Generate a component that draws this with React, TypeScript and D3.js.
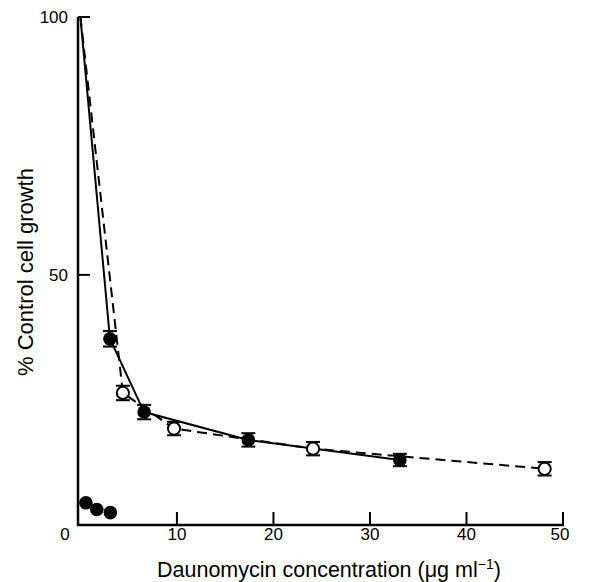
import React from "react";
import * as d3 from "d3";

const xTicks = [10, 20, 30, 40, 50];
const xTickLabels = ["0", "10", "20", "30", "40", "50"];
const yTicks = [50, 100];

// Solid line, filled circles
const solidX = [0, 3.06, 6.6, 17.4, 33.1];
const solidY = [100, 37.6, 23.4, 18.0, 14.1];
const solidErr = [0, 1.5, 1.4, 1.3, 1.2];
const solidMarker = [false, true, true, true, true];

// Dashed line, open circles
const dashX = [0, 4.4, 9.7, 24.1, 48.1];
const dashY = [100, 27.1, 20.2, 16.3, 12.4];
const dashErr = [0, 1.4, 1.3, 1.3, 1.3];
const dashMarker = [false, true, true, true, true];

// Separate filled circles near bottom (no line)
const lowX = [0.57, 1.7, 3.1];
const lowY = [5.8, 4.5, 3.9];

const W = 611;
const H = 582;
const FONT = "'Liberation Sans', Arial, Helvetica, sans-serif";

export default function App() {
  const x = d3.scaleLinear().domain([-0.25, 50]).range([78, 563]);
  const y = d3.scaleLinear().domain([1.5, 100]).range([525, 17]);
  const line = d3
    .line<[number, number]>()
    .x((d) => x(d[0]))
    .y((d) => y(d[1]));
  const solidPts: [number, number][] = solidX.map((v, i) => [v, solidY[i]]);
  const dashPts: [number, number][] = dashX.map((v, i) => [v, dashY[i]]);
  const r = 6.8;
  const cap = 7;
  const axisY = y(1.5);
  const axisX = x(-0.25);

  const errBars = (xs: number[], ys: number[], es: number[], key: string) =>
    xs.map((v, i) =>
      es[i] > 0 ? (
        <g key={key + i} stroke="#000" strokeWidth={2}>
          <line x1={x(v)} x2={x(v)} y1={y(ys[i] + es[i])} y2={y(ys[i] - es[i])} />
          <line x1={x(v) - cap} x2={x(v) + cap} y1={y(ys[i] + es[i])} y2={y(ys[i] + es[i])} />
          <line x1={x(v) - cap} x2={x(v) + cap} y1={y(ys[i] - es[i])} y2={y(ys[i] - es[i])} />
        </g>
      ) : null
    );

  return (
    <svg
      width={W}
      height={H}
      style={{ position: "absolute", left: 0, top: 0, background: "#fff" }}
      fontFamily={FONT}
    >
      <rect width={W} height={H} fill="#fff" />
      {/* axes */}
      <line x1={axisX} x2={axisX} y1={y(100)} y2={axisY + 1} stroke="#000" strokeWidth={2.5} />
      <line x1={axisX - 1} x2={x(50) + 1} y1={axisY} y2={axisY} stroke="#000" strokeWidth={2.5} />
      {xTicks.map((t) => (
        <line key={"xt" + t} x1={x(t)} x2={x(t)} y1={axisY} y2={axisY - 13} stroke="#000" strokeWidth={2} />
      ))}
      {yTicks.map((t) => (
        <line key={"yt" + t} x1={axisX} x2={axisX + 12} y1={y(t)} y2={y(t)} stroke="#000" strokeWidth={2} />
      ))}
      {/* tick labels */}
      {xTickLabels.map((lab, i) => (
        <text
          key={"xl" + lab}
          x={i === 0 ? 65 : x(+lab) - (i === 5 ? 3 : 0)}
          y={540}
          fontSize={17}
          textAnchor="middle"
        >
          {lab}
        </text>
      ))}
      {yTicks.map((t) => (
        <text key={"yl" + t} x={axisX - 10} y={y(t) + 6} fontSize={17} textAnchor="end">
          {t}
        </text>
      ))}
      {/* axis titles */}
      <text x={157} y={577} fontSize={21.5} textAnchor="start">
        Daunomycin concentration (μg ml
        <tspan dy={-8} fontSize={14}>−1</tspan>
        <tspan dy={8}>)</tspan>
      </text>
      <text
        transform={`translate(33, 272) rotate(-90)`}
        fontSize={22}
        textAnchor="middle"
      >
        % Control cell growth
      </text>
      {/* lines */}
      <path d={line(dashPts) || ""} fill="none" stroke="#000" strokeWidth={2} strokeDasharray="10,6" />
      <path d={line(solidPts) || ""} fill="none" stroke="#000" strokeWidth={2} />
      {/* error bars */}
      {errBars(dashX, dashY, dashErr, "de")}
      {errBars(solidX, solidY, solidErr, "se")}
      {/* markers */}
      {dashX.map((v, i) =>
        dashMarker[i] ? (
          <circle key={"dm" + i} cx={x(v)} cy={y(dashY[i])} r={r - 0.7} fill="#fff" stroke="#000" strokeWidth={2} />
        ) : null
      )}
      {solidX.map((v, i) =>
        solidMarker[i] ? <circle key={"sm" + i} cx={x(v)} cy={y(solidY[i])} r={r} fill="#000" /> : null
      )}
      {lowX.map((v, i) => (
        <circle key={"lm" + i} cx={x(v)} cy={y(lowY[i])} r={r} fill="#000" />
      ))}
    </svg>
  );
}
